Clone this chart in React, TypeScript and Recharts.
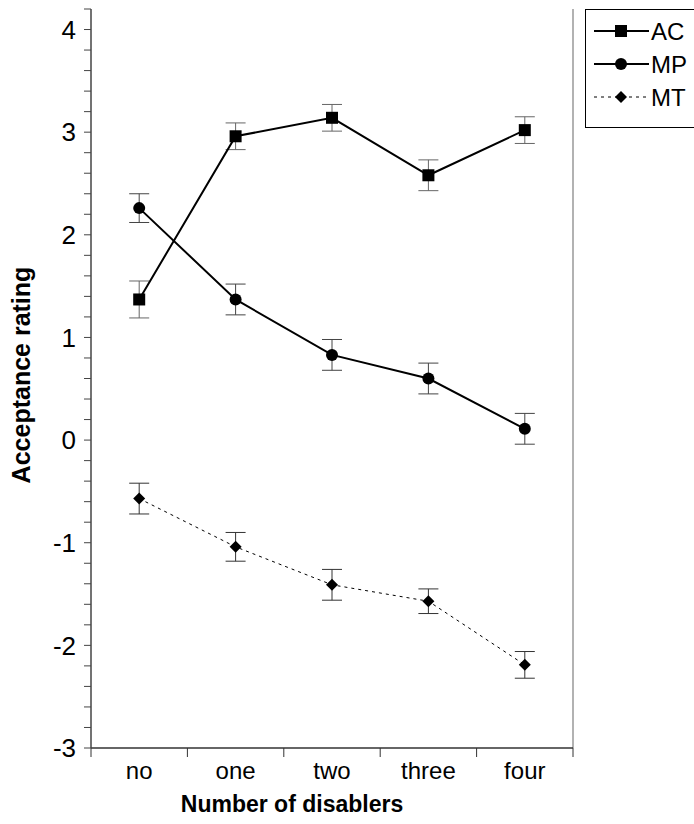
import React from 'react';
import { LineChart, Line, XAxis, YAxis, ErrorBar, ReferenceLine } from 'recharts';

const categories = ['no', 'one', 'two', 'three', 'four'];
const acMean = [1.37, 2.96, 3.14, 2.58, 3.02];
const acErr = [0.18, 0.13, 0.13, 0.15, 0.13];
const mpMean = [2.26, 1.37, 0.83, 0.6, 0.11];
const mpErr = [0.14, 0.15, 0.15, 0.15, 0.15];
const mtMean = [-0.57, -1.04, -1.41, -1.57, -2.19];
const mtErr = [0.15, 0.14, 0.15, 0.12, 0.13];

const yTicks = [
  -3, -2.8, -2.6, -2.4, -2.2, -2, -1.8, -1.6, -1.4, -1.2, -1, -0.8, -0.6, -0.4, -0.2, 0,
  0.2, 0.4, 0.6, 0.8, 1, 1.2, 1.4, 1.6, 1.8, 2, 2.2, 2.4, 2.6, 2.8, 3, 3.2, 3.4, 3.6, 3.8,
  4, 4.2,
];
const xTicks = [0, 0.5, 1, 1.5, 2, 2.5, 3, 3.5, 4, 4.5, 5];

const FONT = "'Liberation Sans', Arial, sans-serif";

const data = categories.map((name, i) => ({
  x: i + 0.5,
  name,
  ac: acMean[i],
  acErr: acErr[i],
  mp: mpMean[i],
  mpErr: mpErr[i],
  mt: mtMean[i],
  mtErr: mtErr[i],
}));

const SquareDot = ({ cx, cy }: any) =>
  cx == null ? null : <rect x={cx - 6} y={cy - 6} width={12} height={12} fill="#000" />;

const CircleDot = ({ cx, cy }: any) =>
  cx == null ? null : <circle cx={cx} cy={cy} r={6} fill="#000" />;

const DiamondDot = ({ cx, cy }: any) =>
  cx == null ? null : (
    <polygon
      points={`${cx},${cy - 6} ${cx + 6},${cy} ${cx},${cy + 6} ${cx - 6},${cy}`}
      fill="#000"
    />
  );

const XTick = ({ x, y, payload }: any) => {
  const v = payload.value;
  if (Number.isInteger(v)) {
    return <line x1={x} x2={x} y1={y} y2={y + 9} stroke="#333" strokeWidth={1} />;
  }
  return (
    <text x={x} y={y + 31} textAnchor="middle" fontSize={24} fontFamily={FONT} fill="#000">
      {categories[Math.floor(v)]}
    </text>
  );
};

const legendItems = [
  { label: 'AC', dash: undefined, width: 2, marker: 'square' },
  { label: 'MP', dash: undefined, width: 2, marker: 'circle' },
  { label: 'MT', dash: '3 4', width: 1, marker: 'diamond' },
];

const LegendBox = () => (
  <div
    style={{
      position: 'absolute',
      left: 585,
      top: 9,
      width: 109,
      height: 119,
      borderTop: '1px solid #000',
      borderLeft: '1px solid #000',
      borderBottom: '1px solid #000',
      boxSizing: 'border-box',
      background: '#fff',
    }}
  >
    <svg width={108} height={117} style={{ display: 'block' }}>
      {legendItems.map((it, i) => {
        const cy = 21 + i * 33;
        const cx = 35;
        return (
          <g key={it.label}>
            <line
              x1={8}
              x2={63}
              y1={cy}
              y2={cy}
              stroke="#000"
              strokeWidth={it.width}
              strokeDasharray={it.dash}
            />
            {it.marker === 'square' && <rect x={cx - 6} y={cy - 6} width={12} height={12} fill="#000" />}
            {it.marker === 'circle' && <circle cx={cx} cy={cy} r={6} fill="#000" />}
            {it.marker === 'diamond' && (
              <polygon
                points={`${cx},${cy - 6} ${cx + 6},${cy} ${cx},${cy + 6} ${cx - 6},${cy}`}
                fill="#000"
              />
            )}
            <text x={65} y={cy + 9} fontSize={24} fontFamily={FONT} fill="#000">
              {it.label}
            </text>
          </g>
        );
      })}
    </svg>
  </div>
);

export default function App() {
  return (
    <div style={{ position: 'absolute', left: 0, top: 0, width: 694, height: 824, background: '#fff' }}>
      <LineChart
        width={694}
        height={824}
        data={data}
        margin={{ top: 9, right: 121, bottom: 0, left: 0 }}
      >
        <XAxis
          type="number"
          dataKey="x"
          domain={[0, 5]}
          ticks={xTicks}
          interval={0}
          height={76}
          tickLine={false}
          tickSize={0}
          tickMargin={0}
          tick={<XTick />}
          axisLine={{ stroke: '#333', strokeWidth: 1.5 }}
          label={{
            content: () => (
              <text
                x={292}
                y={812}
                textAnchor="middle"
                fontSize={23}
                fontWeight="bold"
                fontFamily={FONT}
                fill="#000"
              >
                Number of disablers
              </text>
            ),
          }}
        />
        <YAxis
          type="number"
          domain={[-3, 4.2]}
          ticks={yTicks}
          interval={0}
          width={91}
          tickSize={7}
          tickMargin={8}
          tickLine={{ stroke: '#444' }}
          axisLine={{ stroke: '#444', strokeWidth: 1.5 }}
          tick={{ fontSize: 26, fontFamily: FONT, fill: '#000' }}
          tickFormatter={(v: number) => (Math.abs(v - Math.round(v)) < 1e-6 ? `${Math.round(v)}` : '')}
          label={{
            content: () => (
              <text
                x={0}
                y={0}
                transform="translate(30, 375) rotate(-90)"
                textAnchor="middle"
                fontSize={25}
                fontWeight="bold"
                fontFamily={FONT}
                fill="#000"
              >
                Acceptance rating
              </text>
            ),
          }}
        />
        <ReferenceLine x={5} stroke="#999" strokeWidth={1.5} />
        <Line
          dataKey="ac"
          name="AC"
          stroke="#000"
          strokeWidth={2}
          dot={<SquareDot />}
          isAnimationActive={false}
        >
          <ErrorBar dataKey="acErr" direction="y" width={10} stroke="#666" strokeWidth={1} />
        </Line>
        <Line
          dataKey="mp"
          name="MP"
          stroke="#000"
          strokeWidth={2}
          dot={<CircleDot />}
          isAnimationActive={false}
        >
          <ErrorBar dataKey="mpErr" direction="y" width={10} stroke="#444" strokeWidth={1} />
        </Line>
        <Line
          dataKey="mt"
          name="MT"
          stroke="#000"
          strokeWidth={1}
          strokeDasharray="3 4"
          dot={<DiamondDot />}
          isAnimationActive={false}
        >
          <ErrorBar dataKey="mtErr" direction="y" width={10} stroke="#333" strokeWidth={1} />
        </Line>
      </LineChart>
      <LegendBox />
    </div>
  );
}
